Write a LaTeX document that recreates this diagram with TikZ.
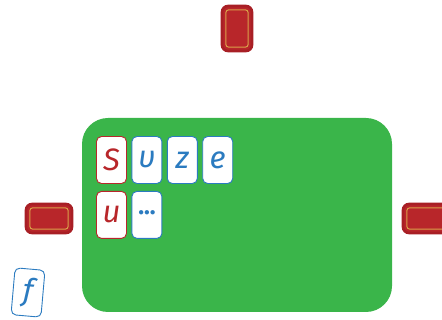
\documentclass[tikz,border=0pt]{standalone}
\usepackage{fontspec}
\setmainfont{Fira Sans}
\usetikzlibrary{positioning}
\definecolor{boardgreen}{HTML}{3AB54A}
\definecolor{cardred}{HTML}{B8262A}
\definecolor{carddark}{HTML}{A81F25}
\definecolor{cardgold}{HTML}{D9A04A}
\definecolor{tileblue}{HTML}{2B7BC0}
\tikzset{
  tile/.style={draw=tileblue, line width=0.9pt, fill=white, rounded corners=5pt, minimum width=30pt, minimum height=47pt, inner sep=0pt, text=tileblue, font=\fontsize{31}{33}\selectfont\itshape},
  redtile/.style={tile, draw=cardred, text=cardred},
  card/.style={draw=carddark, fill=cardred, line width=2.6pt, rounded corners=6pt, inner sep=0pt,
    path picture={\draw[cardgold, line width=1pt, rounded corners=3pt]
      ([xshift=3.8pt,yshift=-3.8pt]path picture bounding box.north west) rectangle
      ([xshift=-3.8pt,yshift=3.8pt]path picture bounding box.south east);}},
  cardv/.style={card, minimum width=30pt, minimum height=45pt},
  cardh/.style={card, minimum width=46pt, minimum height=29pt}
}
\begin{document}
\begin{tikzpicture}[x=1pt,y=-1pt]
  \useasboundingbox (0,0) rectangle (442,320);
  % board
  \fill[boardgreen, rounded corners=26pt] (82,118) rectangle (392,312);
  % word tiles
  \node[redtile] (tS) at (111.5,160) {S};
  \node[tile, right=4.5pt of tS] (tV) {υ};
  \node[tile, right=4.5pt of tV] (tZ) {z};
  \node[tile, right=4.5pt of tZ] (tE) {e};
  \node[redtile, below=7pt of tS] (tU) {u};
  \node[tile, right=4.5pt of tU, font=\fontsize{24}{24}\selectfont\bfseries] (tDots) {\raisebox{0.2em}{...}};
  % cards round the board
  \node[cardv] (cTop) at (237,28.5) {};
  \node[cardh] (cLeft) at (49,218.5) {};
  \node[cardh] (cRight) at (426,218.5) {};
  % loose tile
  \node[tile, rotate=-5] (tF) at (28,292.5) {f};
\end{tikzpicture}
\end{document}
